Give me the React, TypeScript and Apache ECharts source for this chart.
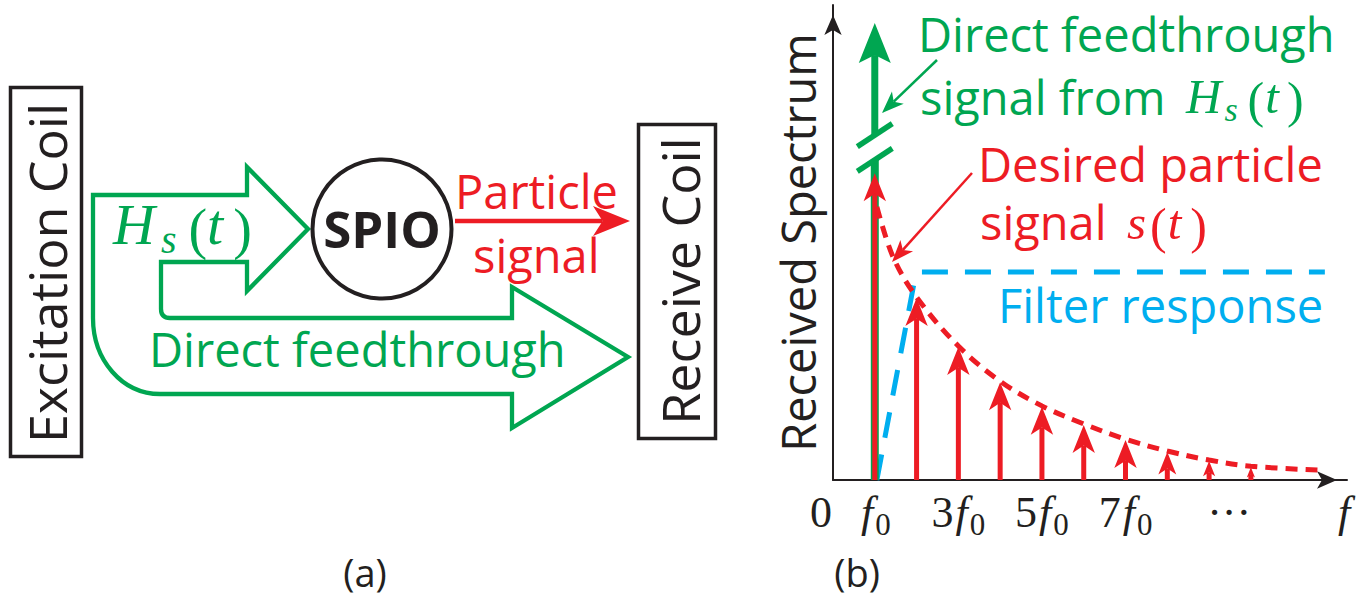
import { useEffect, useRef } from 'react';
import * as echarts from 'echarts';

// ---- spectrum data (x in units of f0, y in arbitrary amplitude units 0..100) ----
const harmonicOrder = [1, 2, 3, 4, 5, 6, 7, 8, 9, 10];
const harmonicAmplitude = [64.6, 38.3, 28.0, 20.6, 15.4, 11.6, 8.4, 5.9, 4.0, 2.7];
const feedthroughFreq = 1;
const feedthroughPeak = 96.2;
const feedthroughBreak = [72.6, 67.4];
const envelopeFreq = [1.05, 1.44, 2, 3, 4, 5, 6, 7, 8, 9, 10, 11.6];
const envelopeLevel = [57.5, 46.9, 38.5, 28.2, 20.8, 15.6, 11.8, 8.6, 6.1, 4.2, 2.9, 2.1];
const filterFreq = [1.05, 1.95, 2.02, 2.12, 11.77];
const filterGain = [0, 42.0, 43.3, 43.8, 43.8];
const tickValues = [0, 1, 3, 5, 7, 9.48, 12.23];
const tickLabels = ['0', 'f0', '3f0', '5f0', '7f0', '···', 'f'];

const GREEN = '#00a651';
const RED = '#ed1c24';
const BLUE = '#00aeef';
const INK = '#231f20';
const SANS = "'Open Sans', 'Noto Sans', sans-serif";
const SERIF = "'Liberation Serif', 'DejaVu Serif', serif";

// outline of the two hollow green arrows (excitation field and direct feedthrough)
const FEED_PATH =
  'M93,195 L247,195 L247,167 L308,229 L247,291 L247,262 L161,262 L161,309 Q161,318 170,318 ' +
  'L512,318 L512,287 L628,357 L512,428 L512,394 L160,394 C122,394 93,360 93,318 Z';
echarts.graphic.registerShape('feedArrow', echarts.graphic.extendPath(FEED_PATH, {}));

// text placed by its baseline
function txt(
  text: string,
  x: number,
  baseline: number,
  size: number,
  color: string,
  o: { bold?: boolean; align?: string } = {}
) {
  return {
    type: 'text',
    x,
    y: baseline - 0.388 * size,
    silent: true,
    style: {
      text,
      fontFamily: SANS,
      fontSize: size,
      fontWeight: o.bold ? 'bold' : 'normal',
      fill: color,
      align: o.align ?? 'left',
      verticalAlign: 'middle',
    },
  };
}

// vertical text reading upwards, placed by its centre along the line and its baseline x
function vtxt(text: string, baselineX: number, cy: number, size: number) {
  return {
    type: 'text',
    x: baselineX - 0.388 * size,
    y: cy,
    rotation: Math.PI / 2,
    silent: true,
    style: { text, fontFamily: SANS, fontSize: size, fill: INK, align: 'center', verticalAlign: 'middle' },
  };
}

// a small math expression set as one rich text: each token gets its own size, slant,
// baseline drop (for subscripts) and left gap
type Tok = { text: string; size: number; italic?: boolean; drop?: number; padL?: number };
function mathText(x: number, baseline: number, toks: Tok[], color: string) {
  const maxSize = Math.max(...toks.map((t) => t.size));
  const top = baseline - 0.837 * maxSize - 2;
  const rich: any = {};
  toks.forEach((t, i) => {
    const padTop = baseline + (t.drop ?? 0) - 0.837 * t.size - top;
    rich['k' + i] = {
      fontFamily: SERIF,
      fontSize: t.size,
      fontStyle: t.italic ? 'italic' : 'normal',
      fill: color,
      verticalAlign: 'top',
      padding: [padTop, 0, 0, t.padL ?? 0],
    };
  });
  return {
    type: 'text',
    x,
    y: top,
    silent: true,
    style: {
      text: toks.map((t, i) => `{k${i}|${t.text}}`).join(''),
      rich,
      fill: color,
      align: 'left',
      verticalAlign: 'top',
    },
  };
}

// straight arrow with a swept head
function arrow(x1: number, y1: number, x2: number, y2: number, lw: number, L: number, W: number, color: string) {
  const len = Math.hypot(x2 - x1, y2 - y1);
  const ux = (x2 - x1) / len;
  const uy = (y2 - y1) / len;
  const px = -uy;
  const py = ux;
  const bx = x2 - ux * L;
  const by = y2 - uy * L;
  const nx = x2 - ux * L * 0.74;
  const ny = y2 - uy * L * 0.74;
  return [
    { type: 'line', silent: true, shape: { x1, y1, x2: nx, y2: ny }, style: { stroke: color, lineWidth: lw } },
    {
      type: 'polygon',
      silent: true,
      shape: { points: [[x2, y2], [bx + (px * W) / 2, by + (py * W) / 2], [nx, ny], [bx - (px * W) / 2, by - (py * W) / 2]] },
      style: { fill: color },
    },
  ];
}

function tickFormatter(value: number) {
  const i = tickValues.findIndex((v) => Math.abs(v - value) < 1e-6);
  if (i < 0) return '';
  const t = tickLabels[i];
  if (t === '0') return '{zero|0}';
  if (t === '···') return '{dots|···}';
  const m = /^(\d?)f(0?)$/.exec(t);
  if (!m) return t;
  return (m[1] ? `{n|${m[1]}}` : '') + '{f|f}' + (m[2] ? `{z|${m[2]}}` : '');
}

const tickBase = { fontFamily: SERIF, fontSize: 44, color: INK, verticalAlign: 'top', lineHeight: 44 };

function renderHarmonic(_params: any, api: any) {
  const x = api.value(0);
  const a = api.value(1);
  const b = api.coord([x, 0]);
  const t = api.coord([x, a]);
  const len = b[1] - t[1];
  const L = Math.min(28, len * 0.8);
  const W = L * 0.8;
  const ny = t[1] + L * 0.74;
  return {
    type: 'group',
    children: [
      { type: 'line', shape: { x1: b[0], y1: b[1], x2: t[0], y2: ny }, style: { stroke: RED, lineWidth: 5 } },
      {
        type: 'polygon',
        shape: { points: [[t[0], t[1]], [t[0] + W / 2, t[1] + L], [t[0], ny], [t[0] - W / 2, t[1] + L]] },
        style: { fill: RED },
      },
    ],
  };
}

function renderFeedthrough(_params: any, api: any) {
  const x = api.value(0);
  const b = api.coord([x, 0]);
  const tip = api.coord([x, api.value(1)]);
  const up = api.coord([x, api.value(2)]);
  const lo = api.coord([x, api.value(3)]);
  const L = 40;
  const W = 32;
  const ny = tip[1] + L * 0.8;
  const brk = (c: number[]) => ({
    type: 'line',
    shape: { x1: c[0] - 17.5, y1: c[1] + 11.5, x2: c[0] + 17.5, y2: c[1] - 11.5 },
    style: { stroke: GREEN, lineWidth: 5.5 },
  });
  return {
    type: 'group',
    children: [
      { type: 'line', shape: { x1: b[0], y1: b[1], x2: lo[0], y2: lo[1] }, style: { stroke: GREEN, lineWidth: 8 } },
      { type: 'line', shape: { x1: up[0], y1: up[1], x2: tip[0], y2: ny }, style: { stroke: GREEN, lineWidth: 7 } },
      {
        type: 'polygon',
        shape: { points: [[tip[0], tip[1]], [tip[0] + W / 2, tip[1] + L], [tip[0], ny], [tip[0] - W / 2, tip[1] + L]] },
        style: { fill: GREEN },
      },
      brk(up),
      brk(lo),
    ],
  };
}

const graphics: any[] = [
  // panel (a): block diagram
  { type: 'rect', silent: true, shape: { x: 10.5, y: 87.5, width: 71, height: 369 }, style: { fill: 'none', stroke: INK, lineWidth: 3.5 } },
  vtxt('Excitation Coil', 67, 273, 52),
  { type: 'rect', silent: true, shape: { x: 638.5, y: 124.5, width: 77, height: 314 }, style: { fill: 'none', stroke: INK, lineWidth: 3.5 } },
  vtxt('Receive Coil', 700, 281, 52),
  { type: 'feedArrow', silent: true, x: 0, y: 0, style: { fill: 'none', stroke: GREEN, lineWidth: 4.3, lineJoin: 'miter' } },
  { type: 'circle', silent: true, shape: { cx: 382, cy: 229, r: 69.5 }, style: { fill: 'none', stroke: INK, lineWidth: 4 } },
  txt('SPIO', 382, 248, 51, INK, { bold: true, align: 'center' }),
  mathText(
    113,
    244,
    [
      { text: 'H', size: 58, italic: true },
      { text: 's', size: 40, italic: true, drop: 9, padL: 6 },
      { text: '(', size: 56, drop: 4, padL: 12 },
      { text: 't', size: 58, italic: true, padL: 0 },
      { text: ')', size: 56, drop: 4, padL: 10 },
    ],
    GREEN
  ),
  txt('Direct feedthrough', 149, 367, 47, GREEN),
  ...arrow(455, 221, 630, 221, 4.5, 37, 30, RED),
  txt('Particle', 455, 209, 47, RED),
  txt('signal', 473, 273, 47, RED),
  txt('(a)', 365, 587, 38, INK, { align: 'center' }),

  // panel (b): annotations
  txt('Direct feedthrough', 918, 52, 47, GREEN),
  txt('signal from', 920, 115, 47, GREEN),
  mathText(
    1186,
    113,
    [
      { text: 'H', size: 49, italic: true },
      { text: 's', size: 34, italic: true, drop: 8, padL: 3 },
      { text: '(', size: 50, drop: 4, padL: 10 },
      { text: 't', size: 49, italic: true, padL: 1 },
      { text: ')', size: 50, drop: 4, padL: 8 },
    ],
    GREEN
  ),
  ...arrow(937, 60, 882, 113, 2.5, 22, 17, GREEN),
  txt('Desired particle', 978, 182, 47, RED),
  txt('signal', 980, 240, 47, RED),
  mathText(
    1127,
    239,
    [
      { text: 's', size: 49, italic: true },
      { text: '(', size: 50, drop: 4, padL: 4 },
      { text: 't', size: 49, italic: true, padL: 1 },
      { text: ')', size: 50, drop: 4, padL: 9 },
    ],
    RED
  ),
  ...arrow(972, 173, 892, 262, 2.5, 22, 17, RED),
  txt('Filter response', 998, 323, 47, BLUE),
  txt('(b)', 857, 587, 38, INK, { align: 'center' }),
];

const option: any = {
  animation: false,
  backgroundColor: '#ffffff',
  grid: { left: 833, top: 5, width: 514, height: 475, containLabel: false },
  xAxis: {
    type: 'value',
    min: 0,
    max: 12.3,
    axisLine: {
      show: true,
      lineStyle: { color: INK, width: 2 },
      symbol: ['none', 'arrow'],
      symbolSize: [13, 20],
      symbolOffset: [0, -10],
    },
    axisTick: { show: false },
    splitLine: { show: false },
    axisLabel: {
      show: true,
      customValues: tickValues,
      margin: 10,
      hideOverlap: false,
      showMinLabel: true,
      showMaxLabel: true,
      color: INK,
      formatter: tickFormatter,
      rich: {
        n: { ...tickBase },
        zero: { ...tickBase, padding: [0, 24, 0, 0] },
        f: { ...tickBase, fontStyle: 'italic', padding: [0, 2, 0, 2] },
        z: { ...tickBase, fontSize: 31, lineHeight: 31, padding: [19, 0, 0, 0] },
        dots: { ...tickBase },
      },
    },
  },
  yAxis: {
    type: 'value',
    min: 0,
    max: 100,
    name: 'Received Spectrum',
    nameLocation: 'middle',
    nameRotate: 90,
    nameGap: 12,
    nameTextStyle: { fontFamily: SANS, fontSize: 47, color: INK },
    axisLine: {
      show: true,
      lineStyle: { color: INK, width: 2 },
      symbol: ['none', 'arrow'],
      symbolSize: [13, 20],
      symbolOffset: [0, -10],
    },
    axisTick: { show: false },
    splitLine: { show: false },
    axisLabel: { show: false },
  },
  series: [
    {
      name: 'Filter response',
      type: 'line',
      silent: true,
      data: filterFreq.map((f, i) => [f, filterGain[i]]),
      symbol: 'none',
      lineStyle: { color: BLUE, width: 5, type: [26, 17], cap: 'butt', join: 'round' },
      z: 2,
    },
    {
      name: 'Direct feedthrough',
      type: 'custom',
      silent: true,
      renderItem: renderFeedthrough,
      data: [[feedthroughFreq, feedthroughPeak, feedthroughBreak[0], feedthroughBreak[1]]],
      z: 3,
    },
    {
      name: 'Particle harmonics',
      type: 'custom',
      silent: true,
      renderItem: renderHarmonic,
      data: harmonicOrder.map((n, i) => [n, harmonicAmplitude[i]]),
      z: 4,
    },
    {
      name: 'Particle envelope',
      type: 'line',
      silent: true,
      data: envelopeFreq.map((f, i) => [f, envelopeLevel[i]]),
      smooth: 0.35,
      symbol: 'none',
      lineStyle: { color: RED, width: 5, type: [12, 8], cap: 'butt' },
      z: 5,
    },
  ],
  graphic: graphics,
};

export default function App() {
  const ref = useRef<HTMLDivElement>(null);
  useEffect(() => {
    if (!ref.current) return;
    const chart = echarts.init(ref.current, undefined, { renderer: 'svg' });
    chart.setOption(option);
    return () => chart.dispose();
  }, []);
  return (
    <div
      ref={ref}
      style={{ position: 'fixed', left: 0, top: 0, width: 1367, height: 604, background: '#ffffff' }}
    />
  );
}
